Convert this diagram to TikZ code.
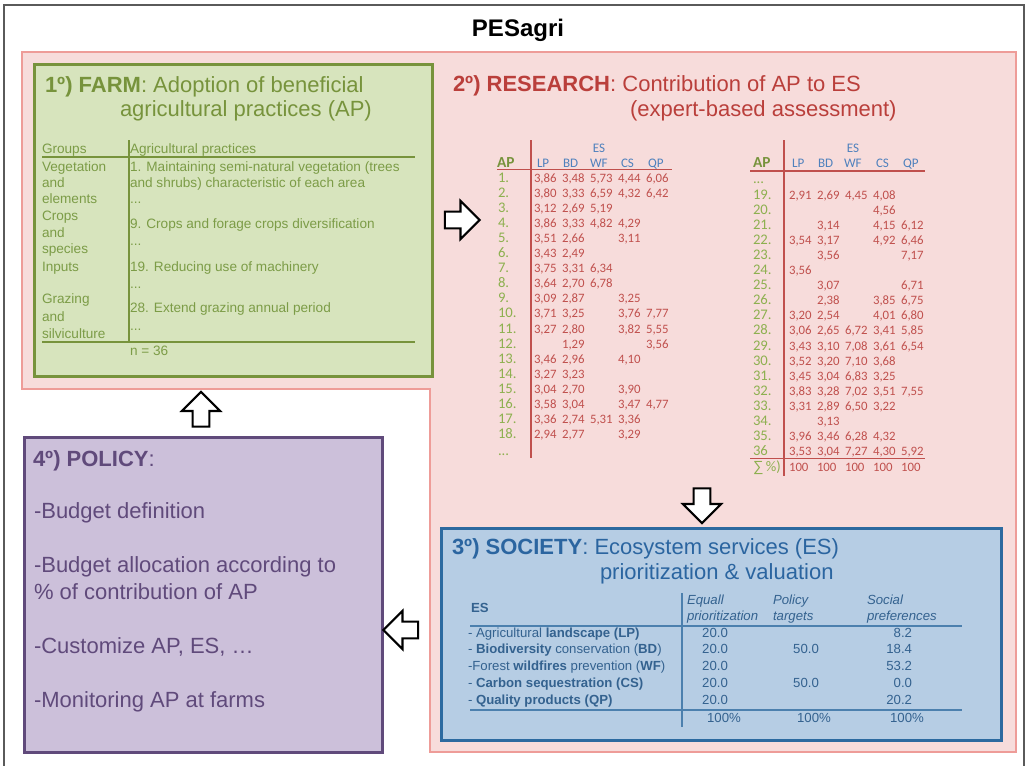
\documentclass[tikz,border=0pt]{standalone}
\usepackage{fontspec}
\setmainfont{Liberation Sans}
\newfontfamily\calib{Carlito}
\usetikzlibrary{shapes.arrows}
\definecolor{framegray}{HTML}{5A5A5A}
\definecolor{pinkfill}{HTML}{F7DCDB}
\definecolor{pinkline}{HTML}{EE9C98}
\definecolor{greenfill}{HTML}{D7E4BD}
\definecolor{greenline}{HTML}{77933C}
\definecolor{farmtxt}{HTML}{7C9C47}
\definecolor{aplabcol}{HTML}{8DB04F}
\definecolor{redtext}{HTML}{C0504D}
\definecolor{redhead}{HTML}{BA3F3B}
\definecolor{esblue}{HTML}{4F81BD}
\definecolor{bluefill}{HTML}{B6CDE4}
\definecolor{blueline}{HTML}{2C6AA0}
\definecolor{bluetext}{HTML}{2B65A0}
\definecolor{bluetab}{HTML}{34628F}
\definecolor{purplefill}{HTML}{CCC0DA}
\definecolor{purpleline}{HTML}{604A7B}
\newcommand\vals[5]{\makebox[21pt][l]{#1}\makebox[21pt][l]{#2}\makebox[21pt][l]{#3}\makebox[21pt][l]{#4}\makebox[21pt][l]{#5}}
\newcommand\aprow[5]{%
  \node[aplab] (#1a) at (#2,#3) {#4};
  \node[apval] (#1b) at ({#2+36},#3) {#5};}
\begin{document}
\begin{tikzpicture}[x=0.75pt,y=-0.75pt,
  every node/.style={inner sep=0pt, outer sep=0pt},
  txt/.style={anchor=base west},
  head/.style={txt, font=\fontsize{16.5}{20}\selectfont},
  farmtab/.style={txt, text=farmtxt, font=\fontsize{10.2}{12}\selectfont},
  aplab/.style={txt, text=aplabcol, font=\calib\fontsize{11}{12}\selectfont},
  apval/.style={txt, text=redtext, font=\calib\fontsize{9.6}{11}\selectfont},
  eshead/.style={txt, text=esblue, font=\calib\fontsize{9.8}{11}\selectfont},
  aphead/.style={txt, text=greenline, font=\calib\bfseries\fontsize{11.5}{12}\selectfont},
  soc/.style={txt, text=bluetab, font=\fontsize{9.9}{11}\selectfont},
  socc/.style={anchor=base, text=bluetab, font=\fontsize{9.9}{11}\selectfont},
  soci/.style={txt, text=bluetab, font=\itshape\fontsize{9.9}{11}\selectfont},
  pol/.style={txt, text=purpleline, font=\fontsize{16.5}{20}\selectfont},
  redrule/.style={draw=redtext, line width=0.9pt},
  greenrule/.style={draw=greenline, line width=0.9pt},
  bluerule/.style={draw=blueline!85, line width=0.9pt},
  barrow/.style={single arrow, draw=black, fill=white, line width=1.6pt,
    minimum height=26pt, inner xsep=0pt, inner ysep=5.5pt,
    single arrow head extend=8pt, single arrow head indent=0pt},
]
\useasboundingbox (0,0) rectangle (1030,765);
\fill[white] (0,0) rectangle (1030,765);
% outer frame
\draw[framegray, line width=1pt] (4,770) -- (4,5) -- (1024,5) -- (1024,770);
\node[anchor=base, font=\bfseries\fontsize{18}{20}\selectfont] (title) at (518,36) {PESagri};

% research region (L-shape)
\draw[pinkline, fill=pinkfill, line width=2pt] (22,52) -- (1016,52) -- (1016,752) -- (430,752) -- (430,389) -- (22,389) -- cycle;

% farm box
\draw[greenline, fill=greenfill, line width=2.25pt] (34,64) rectangle (432,376);
\node[head, text=greenline] (farmh1) at (45,92) {\textbf{1º) FARM}: Adoption of beneficial};
\node[head, text=greenline] (farmh2) at (120,116) {agricultural practices (AP)};
\node[farmtab] (g0) at (42,153) {Groups};
\node[farmtab] (p0) at (130,153) {Agricultural practices};
\draw[greenrule] (129,140) -- (129,342);
\draw[greenrule] (42,157) -- (415,157);
\draw[greenrule] (42,342) -- (415,342);
\node[farmtab] (g1) at (42,171) {Vegetation};
\node[farmtab] (g2) at (42,187) {and};
\node[farmtab] (g3) at (42,203) {elements};
\node[farmtab] (g4) at (42,220) {Crops};
\node[farmtab] (g5) at (42,237) {and};
\node[farmtab] (g6) at (42,253) {species};
\node[farmtab] (g7) at (42,271) {Inputs};
\node[farmtab] (g8) at (42,303) {Grazing};
\node[farmtab] (g9) at (42,321) {and};
\node[farmtab] (g10) at (42,338) {silviculture};
\node[farmtab] (p1) at (130,171) {1. Maintaining semi-natural vegetation (trees};
\node[farmtab] (p2) at (130,187) {and shrubs) characteristic of each area};
\node[farmtab] (p3) at (130,203) {...};
\node[farmtab] (p4) at (130,228) {9. Crops and forage crops diversification};
\node[farmtab] (p5) at (130,245) {...};
\node[farmtab] (p6) at (130,271) {19. Reducing use of machinery};
\node[farmtab] (p7) at (130,288) {...};
\node[farmtab] (p8) at (130,312) {28. Extend grazing annual period};
\node[farmtab] (p9) at (130,330) {...};
\node[farmtab] (pn) at (130,355) {n = 36};

% research heading
\node[head, text=redhead] (resh1) at (453,91) {\textbf{2º) RESEARCH}: Contribution of AP to ES};
\node[head, text=redhead] (resh2) at (630,116) {(expert-based assessment)};

% left AP table
\node[eshead, anchor=base] (esL) at (599,152) {ES};
\node[aphead] (apL) at (497,167) {AP};
\node[eshead] (lpL) at (537,167) {LP};
\node[eshead] (bdL) at (563,167) {BD};
\node[eshead] (wfL) at (590,167) {WF};
\node[eshead] (csL) at (621,167) {CS};
\node[eshead] (qpL) at (648,167) {QP};
\draw[redrule] (531,140) -- (531,458);
\draw[redrule] (497,169.5) -- (672,169.5);
\aprow{r1}{498}{182.0}{1.}{\vals{3,86}{3,48}{5,73}{4,44}{6,06}}
\aprow{r2}{498}{197.1}{2.}{\vals{3,80}{3,33}{6,59}{4,32}{6,42}}
\aprow{r3}{498}{212.2}{3.}{\vals{3,12}{2,69}{5,19}{}{}}
\aprow{r4}{498}{227.3}{4.}{\vals{3,86}{3,33}{4,82}{4,29}{}}
\aprow{r5}{498}{242.4}{5.}{\vals{3,51}{2,66}{}{3,11}{}}
\aprow{r6}{498}{257.5}{6.}{\vals{3,43}{2,49}{}{}{}}
\aprow{r7}{498}{272.6}{7.}{\vals{3,75}{3,31}{6,34}{}{}}
\aprow{r8}{498}{287.7}{8.}{\vals{3,64}{2,70}{6,78}{}{}}
\aprow{r9}{498}{302.8}{9.}{\vals{3,09}{2,87}{}{3,25}{}}
\aprow{r10}{498}{317.9}{10.}{\vals{3,71}{3,25}{}{3,76}{7,77}}
\aprow{r11}{498}{333.0}{11.}{\vals{3,27}{2,80}{}{3,82}{5,55}}
\aprow{r12}{498}{348.1}{12.}{\vals{}{1,29}{}{}{3,56}}
\aprow{r13}{498}{363.2}{13.}{\vals{3,46}{2,96}{}{4,10}{}}
\aprow{r14}{498}{378.3}{14.}{\vals{3,27}{3,23}{}{}{}}
\aprow{r15}{498}{393.4}{15.}{\vals{3,04}{2,70}{}{3,90}{}}
\aprow{r16}{498}{408.5}{16.}{\vals{3,58}{3,04}{}{3,47}{4,77}}
\aprow{r17}{498}{423.6}{17.}{\vals{3,36}{2,74}{5,31}{3,36}{}}
\aprow{r18}{498}{438.7}{18.}{\vals{2,94}{2,77}{}{3,29}{}}
\node[aplab] (dotsL) at (498,455) {...};

% right AP table
\node[eshead, anchor=base] (esR) at (853,152) {ES};
\node[aphead] (apR) at (753,167) {AP};
\node[eshead] (lpR) at (792,167) {LP};
\node[eshead] (bdR) at (818,167) {BD};
\node[eshead] (wfR) at (844,167) {WF};
\node[eshead] (csR) at (876,167) {CS};
\node[eshead] (qpR) at (903,167) {QP};
\draw[redrule] (784,140) -- (784,476);
\draw[redrule] (750,171) -- (925,171);
\draw[redrule] (750,458.5) -- (925,458.5);
\node[aplab] (dotsR) at (753,183) {...};
\aprow{r19}{753}{199.0}{19.}{\vals{2,91}{2,69}{4,45}{4,08}{}}
\aprow{r20}{753}{214.1}{20.}{\vals{}{}{}{4,56}{}}
\aprow{r21}{753}{229.2}{21.}{\vals{}{3,14}{}{4,15}{6,12}}
\aprow{r22}{753}{244.3}{22.}{\vals{3,54}{3,17}{}{4,92}{6,46}}
\aprow{r23}{753}{259.4}{23.}{\vals{}{3,56}{}{}{7,17}}
\aprow{r24}{753}{274.5}{24.}{\vals{3,56}{}{}{}{}}
\aprow{r25}{753}{289.6}{25.}{\vals{}{3,07}{}{}{6,71}}
\aprow{r26}{753}{304.7}{26.}{\vals{}{2,38}{}{3,85}{6,75}}
\aprow{r27}{753}{319.8}{27.}{\vals{3,20}{2,54}{}{4,01}{6,80}}
\aprow{r28}{753}{334.9}{28.}{\vals{3,06}{2,65}{6,72}{3,41}{5,85}}
\aprow{r29}{753}{350.0}{29.}{\vals{3,43}{3,10}{7,08}{3,61}{6,54}}
\aprow{r30}{753}{365.1}{30.}{\vals{3,52}{3,20}{7,10}{3,68}{}}
\aprow{r31}{753}{380.2}{31.}{\vals{3,45}{3,04}{6,83}{3,25}{}}
\aprow{r32}{753}{395.3}{32.}{\vals{3,83}{3,28}{7,02}{3,51}{7,55}}
\aprow{r33}{753}{410.4}{33.}{\vals{3,31}{2,89}{6,50}{3,22}{}}
\aprow{r34}{753}{425.5}{34.}{\vals{}{3,13}{}{}{}}
\aprow{r35}{753}{440.6}{35.}{\vals{3,96}{3,46}{6,28}{4,32}{}}
\aprow{r36}{753}{455.7}{36}{\vals{3,53}{3,04}{7,27}{4,30}{5,92}}
\aprow{rsum}{753}{471}{{\fontspec{Liberation Sans}∑}\,\%)}{\vals{100}{100}{100}{100}{100}}

% society box
\draw[blueline, fill=bluefill, line width=2.25pt] (441,528) rectangle (1001,740);
\node[head, text=bluetext] (soch1) at (452,554) {\textbf{3º) SOCIETY}: Ecosystem services (ES)};
\node[head, text=bluetext] (soch2) at (600,579) {prioritization \& valuation};
\node[soc, font=\bfseries\fontsize{9.9}{11}\selectfont] (esS) at (471,612) {ES};
\node[soci] (eq1) at (687,604) {Equall};
\node[soci] (eq2) at (687,620) {prioritization};
\node[soci] (po1) at (773,604) {Policy};
\node[soci] (po2) at (773,620) {targets};
\node[soci] (so1) at (867,604) {Social};
\node[soci] (so2) at (867,620) {preferences};
\draw[bluerule] (470,626) -- (962,626);
\draw[bluerule] (470,710) -- (962,710);
\draw[bluerule] (682,593) -- (682,727);
\node[soc] (sLP) at (468,637) {- Agricultural \textbf{landscape (LP)}};
\node[soc] (sBD) at (468,653) {- \textbf{Biodiversity} conservation (\textbf{BD})};
\node[soc] (sWF) at (468,670) {-Forest \textbf{wildfires} prevention (\textbf{WF})};
\node[soc] (sCS) at (468,687) {- \textbf{Carbon sequestration (CS)}};
\node[soc] (sQP) at (468,704) {- \textbf{Quality products (QP)}};
\node[socc] (e1) at (715,637) {20.0};
\node[socc] (e2) at (715,653) {20.0};
\node[socc] (e3) at (715,670) {20.0};
\node[socc] (e4) at (715,687) {20.0};
\node[socc] (e5) at (715,704) {20.0};
\node[socc] (pt2) at (806,653) {50.0};
\node[socc] (pt4) at (806,687) {50.0};
\node[socc, anchor=base east] (sp1) at (912,637) {8.2};
\node[socc, anchor=base east] (sp2) at (912,653) {18.4};
\node[socc, anchor=base east] (sp3) at (912,670) {53.2};
\node[socc, anchor=base east] (sp4) at (912,687) {0.0};
\node[socc, anchor=base east] (sp5) at (912,704) {20.2};
\node[socc] (t1) at (724,722) {100\%};
\node[socc] (t2) at (814,722) {100\%};
\node[socc] (t3) at (907,722) {100\%};

% policy box
\draw[purpleline, fill=purplefill, line width=2.25pt] (24,437) rectangle (382,752);
\node[pol] (polh) at (33,466) {\textbf{4º) POLICY}:};
\node[pol] (pol1) at (34,518) {-Budget definition};
\node[pol] (pol2) at (34,572) {-Budget allocation according to};
\node[pol] (pol3) at (34,599) {\% of contribution of AP};
\node[pol] (pol4) at (34,653) {-Customize AP, ES, …};
\node[pol] (pol5) at (34,707) {-Monitoring AP at farms};

% block arrows
\node[barrow] (a12) at (458,220) {};
\node[barrow, rotate=-90] (a23) at (702,501.5) {};
\node[barrow, rotate=180] (a34) at (405,630) {};
\node[barrow, rotate=90] (a41) at (201,413.5) {};
\end{tikzpicture}
\end{document}
